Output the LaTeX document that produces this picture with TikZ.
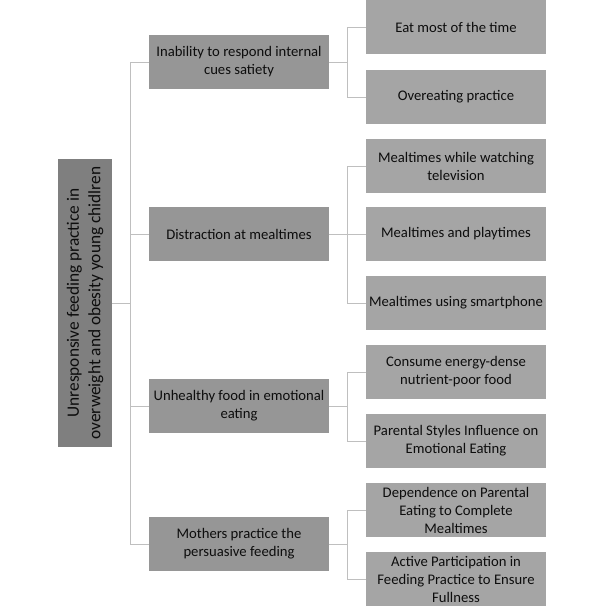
\documentclass[tikz,border=0pt]{standalone}
\usepackage{fontspec}
\setmainfont{Carlito}
\definecolor{rootfill}{HTML}{7F7F7F}
\definecolor{lonefill}{HTML}{969696}
\definecolor{ltwofill}{HTML}{A5A5A5}
\definecolor{linec}{HTML}{BFBFBF}
\definecolor{txt}{HTML}{0D0D0D}
\tikzset{
  base/.style={inner sep=0pt, outer sep=0pt, align=center, text=txt,
    font={\fontsize{14.67}{18}\selectfont}},
  rootbox/.style={base, fill=rootfill, minimum width=288pt, minimum height=54pt, rotate=90,
    font={\fontsize{17.33}{21.5}\selectfont}},
  lonebox/.style={base, fill=lonefill, minimum width=180pt, minimum height=54pt},
  ltwobox/.style={base, fill=ltwofill, minimum width=180pt, minimum height=54pt},
  conn/.style={draw=linec, line width=1pt}
}
\begin{document}
\begin{tikzpicture}[x=1pt, y=-1pt]
\useasboundingbox (0,0) rectangle (603,606);
\node[rootbox] (root) at (85,303) {Unresponsive feeding practice in\\overweight and obesity young chidlren};

\node[lonebox] (a) at (239,62) {Inability to respond internal\\cues satiety};
\node[lonebox] (b) at (239,234) {Distraction at mealtimes};
\node[lonebox] (c) at (239,406) {Unhealthy food in emotional\\eating};
\node[lonebox] (d) at (239,544) {Mothers practice the\\persuasive feeding};

\node[ltwobox] (a1) at (456,27) {Eat most of the time};
\node[ltwobox] (a2) at (456,97) {Overeating practice};
\node[ltwobox] (b1) at (456,166) {Mealtimes while watching\\television};
\node[ltwobox] (b2) at (456,234) {Mealtimes and playtimes};
\node[ltwobox] (b3) at (456,303) {Mealtimes using smartphone};
\node[ltwobox] (c1) at (456,372) {Consume energy-dense\\nutrient-poor food};
\node[ltwobox] (c2) at (456,441) {Parental Styles Influence on\\Emotional Eating};
\node[ltwobox] (d1) at (456,510) {Dependence on Parental\\Eating to Complete\\Mealtimes};
\node[ltwobox] (d2) at (456,579) {Active Participation in\\Feeding Practice to Ensure\\Fullness};

\coordinate (rj) at (130,303);
\draw[conn] (root.south) -- (rj);
\draw[conn] (rj) |- (a.west);
\draw[conn] (rj) |- (b.west);
\draw[conn] (rj) |- (c.west);
\draw[conn] (rj) |- (d.west);

\coordinate (aj) at (347,62);
\coordinate (bj) at (347,234);
\coordinate (cj) at (347,406);
\coordinate (dj) at (347,544);
\draw[conn] (a.east) -- (aj);
\draw[conn] (b.east) -- (bj);
\draw[conn] (c.east) -- (cj);
\draw[conn] (d.east) -- (dj);
\draw[conn] (aj) |- (a1.west);
\draw[conn] (aj) |- (a2.west);
\draw[conn] (bj) |- (b1.west);
\draw[conn] (bj) |- (b2.west);
\draw[conn] (bj) |- (b3.west);
\draw[conn] (cj) |- (c1.west);
\draw[conn] (cj) |- (c2.west);
\draw[conn] (dj) |- (d1.west);
\draw[conn] (dj) |- (d2.west);
\end{tikzpicture}
\end{document}
